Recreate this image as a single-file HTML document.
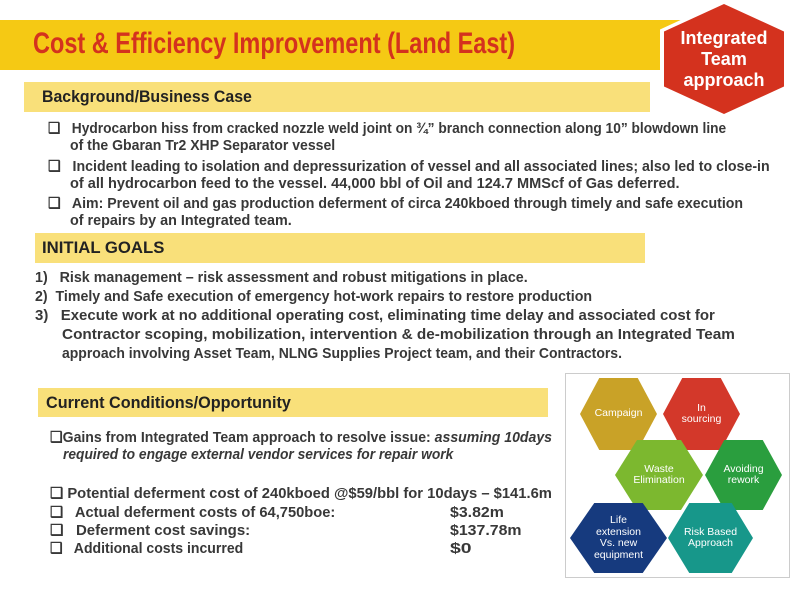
<!DOCTYPE html>
<html><head><meta charset="utf-8"><style>
body{margin:0;width:800px;height:600px;background:#fff;position:relative;overflow:hidden;font-family:"Liberation Sans",sans-serif;}
.abs{position:absolute;}
.t{position:absolute;white-space:nowrap;font-weight:bold;font-size:15px;color:#383838;transform-origin:0 0;line-height:16px;}
.band{position:absolute;}
.hex{position:absolute;clip-path:polygon(25% 0,75% 0,100% 50%,75% 100%,25% 100%,0 50%);display:flex;align-items:center;justify-content:center;text-align:center;color:#fff;font-size:10.5px;line-height:11.5px;}
</style></head><body>
<div class="band" style="left:0;top:20px;width:690px;height:50px;background:#f5c914;"></div>
<div class="t" data-w="482" style="left:33px;top:28px;font-size:30px;line-height:32px;color:#d4321e;">Cost &amp; Efficiency Improvement (Land East)</div>

<div class="abs" style="left:660px;top:0;width:128px;height:118px;background:#fff;clip-path:polygon(50% 0,100% 25%,100% 75%,50% 100%,0 75%,0 25%);"></div>
<div class="abs" style="left:664px;top:4px;width:120px;height:110px;background:#d4321e;clip-path:polygon(50% 0,100% 25%,100% 75%,50% 100%,0 75%,0 25%);color:#fff;font-weight:bold;font-size:18px;line-height:21px;text-align:center;display:flex;align-items:center;justify-content:center;">Integrated<br>Team<br>approach</div>

<div class="band" style="left:24px;top:82px;width:626px;height:30px;background:#f9e07a;"></div>
<div class="t" data-w="210" style="left:42px;top:87px;font-size:17px;line-height:19px;color:#222;">Background/Business Case</div>

<div class="t" data-w="678" style="left:48px;top:121px;">❑&nbsp;&nbsp; Hydrocarbon hiss from cracked nozzle weld joint on ¾” branch connection along 10” blowdown line</div>
<div class="t" data-w="265" style="left:70px;top:138px;">of the Gbaran Tr2 XHP Separator vessel</div>
<div class="t" data-w="722" style="left:48px;top:159px;">❑&nbsp;&nbsp; Incident leading to isolation and depressurization of vessel and all associated lines; also led to close-in</div>
<div class="t" data-w="610" style="left:70px;top:176px;">of all hydrocarbon feed to the vessel. 44,000 bbl of Oil and 124.7 MMScf of Gas deferred.</div>
<div class="t" data-w="695" style="left:48px;top:196px;">❑&nbsp;&nbsp; Aim: Prevent oil and gas production deferment of circa 240kboed through timely and safe execution</div>
<div class="t" data-w="222" style="left:70px;top:213px;">of repairs by an Integrated team.</div>

<div class="band" style="left:35px;top:233px;width:610px;height:30px;background:#f9e07a;"></div>
<div class="t" data-w="122" style="left:42px;top:238px;font-size:17px;line-height:19px;color:#222;">INITIAL GOALS</div>
<div class="t" data-w="493" style="left:35px;top:270px;">1)&nbsp;&nbsp; Risk management – risk assessment and robust mitigations in place.</div>
<div class="t" data-w="557" style="left:35px;top:289px;">2)&nbsp; Timely and Safe execution of emergency hot-work repairs to restore production</div>
<div class="t" data-w="680" style="left:35px;top:308px;">3)&nbsp;&nbsp; Execute work at no additional operating cost, eliminating time delay and associated cost for</div>
<div class="t" data-w="673" style="left:62px;top:327px;">Contractor scoping, mobilization, intervention &amp; de-mobilization through an Integrated Team</div>
<div class="t" data-w="560" style="left:62px;top:346px;">approach involving Asset Team, NLNG Supplies Project team, and their Contractors.</div>

<div class="band" style="left:38px;top:388px;width:510px;height:29px;background:#f9e07a;"></div>
<div class="t" data-w="245" style="left:46px;top:393px;font-size:17px;line-height:19px;color:#222;">Current Conditions/Opportunity</div>
<div class="t" data-w="502" style="left:50px;top:430px;">❑Gains from Integrated Team approach to resolve issue: <i>assuming 10days</i></div>
<div class="t" data-w="390" style="left:63px;top:447px;"><i>required to engage external vendor services for repair work</i></div>
<div class="t" data-w="502" style="left:50px;top:486px;">❑ Potential deferment cost of 240kboed @$59/bbl for 10days – $141.6m</div>
<div class="t" data-w="285" style="left:50px;top:505px;">❑&nbsp;&nbsp; Actual deferment costs of 64,750boe:</div>
<div class="t" data-w="200" style="left:50px;top:523px;">❑&nbsp;&nbsp; Deferment cost savings:</div>
<div class="t" data-w="193" style="left:50px;top:541px;">❑&nbsp;&nbsp; Additional costs incurred</div>
<div class="t" data-w="54" style="left:450px;top:505px;">$3.82m</div>
<div class="t" data-w="72" style="left:450px;top:523px;">$137.78m</div>
<div class="t" data-w="22" style="left:450px;top:541px;">$0</div>

<div class="abs" style="left:565px;top:373px;width:223px;height:203px;border:1px solid #ccc;"></div>
<div class="hex" style="left:580px;top:378px;width:77px;height:72px;background:#c9a227;">Campaign</div>
<div class="hex" style="left:663px;top:378px;width:77px;height:72px;background:#d3382a;">In<br>sourcing</div>
<div class="hex" style="left:615px;top:440px;width:88px;height:70px;background:#7cb82f;">Waste<br>Elimination</div>
<div class="hex" style="left:705px;top:440px;width:77px;height:70px;background:#2a9e3e;">Avoiding<br>rework</div>
<div class="hex" style="left:570px;top:503px;width:97px;height:70px;background:#163a7e;">Life<br>extension<br>Vs. new<br>equipment</div>
<div class="hex" style="left:668px;top:503px;width:85px;height:70px;background:#17978a;">Risk Based<br>Approach</div>

<script>
document.querySelectorAll('[data-w]').forEach(function(el){
  var w=parseFloat(el.getAttribute('data-w'));
  var s=w/el.scrollWidth;
  el.style.transform='scaleX('+s+')';
});
</script>
</body></html>
